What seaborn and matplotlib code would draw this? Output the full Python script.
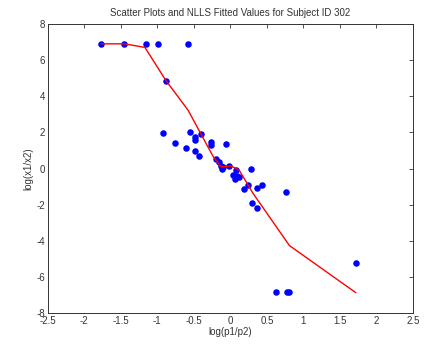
import matplotlib
matplotlib.use("Agg")
import matplotlib.pyplot as plt
import numpy as np
import pandas as pd
import seaborn as sns

# observed data points: log(p1/p2) vs log(x1/x2)
obs_x = [-1.77, -1.45, -1.16, -0.99, -0.58, -0.88,
         -0.92, -0.76, -0.61, -0.55, -0.49, -0.49, -0.49, -0.43, -0.40,
         -0.26, -0.26, -0.06, -0.20, -0.16, -0.13, -0.10, -0.12, -0.02,
         0.08, 0.09, 0.06, 0.12, 0.04, 0.28, 0.19, 0.24, 0.36, 0.43,
         0.29, 0.36, 0.76, 0.63, 0.77, 0.80, 1.72]
obs_y = [6.91, 6.91, 6.91, 6.91, 6.91, 4.86,
         1.98, 1.43, 1.12, 2.04, 1.76, 1.57, 0.98, 0.67, 1.91,
         1.48, 1.30, 1.35, 0.51, 0.38, 0.14, 0.07, -0.05, 0.14,
         -0.08, -0.42, -0.60, -0.49, -0.36, -0.01, -1.16, -0.92, -1.10, -0.92,
         -1.93, -2.20, -1.28, -6.86, -6.86, -6.86, -5.25]

# NLLS fitted values
fit_x = [-1.77, -1.45, -1.17, -0.88, -0.58, -0.24, -0.13, -0.10, 0.01, 0.12, 0.31, 0.81, 1.72]
fit_y = [6.91, 6.91, 6.71, 4.86, 3.24, 0.70, 0.10, 0.10, 0.14, -0.08, -1.37, -4.27, -6.88]

obs = pd.DataFrame({"x": obs_x, "y": obs_y})
fit = pd.DataFrame({"x": fit_x, "y": fit_y})

sns.set_style("white")
plt.rcParams["font.family"] = ["Liberation Sans", "DejaVu Sans"]

fig = plt.figure(figsize=(4.35, 3.45), dpi=100)
ax = fig.add_axes([0.110, 0.093, 0.839, 0.837])

sns.scatterplot(data=obs, x="x", y="y", ax=ax, color="#0000ff", s=22,
                edgecolor="#0000ff", linewidth=0, zorder=2)
sns.lineplot(data=fit, x="x", y="y", ax=ax, color="#ff0000", linewidth=1.0,
             sort=False, estimator=None, zorder=3)

ax.set_xlim(-2.5, 2.5)
ax.set_ylim(-8, 8)
ax.set_xticks(np.arange(-2.5, 2.51, 0.5))
ax.set_xticklabels(["-2.5", "-2", "-1.5", "-1", "-0.5", "0", "0.5", "1", "1.5", "2", "2.5"])
ax.set_yticks(np.arange(-8, 8.1, 2))
ax.set_yticklabels([str(v) for v in range(-8, 9, 2)])
ax.tick_params(direction="in", length=3, width=0.6, top=True, right=True,
               labelsize=7, colors="#333333", pad=2)
for s in ax.spines.values():
    s.set_color("#333333")
    s.set_linewidth(0.7)

ax.set_title("Scatter Plots and NLLS Fitted Values for Subject ID 302",
             fontsize=7, color="#333333", pad=6)
ax.set_xlabel("log(p1/p2)", fontsize=7, color="#333333", labelpad=1)
ax.set_ylabel("log(x1/x2)", fontsize=7, color="#333333", labelpad=2)

fig.savefig("out.png", dpi=100)
